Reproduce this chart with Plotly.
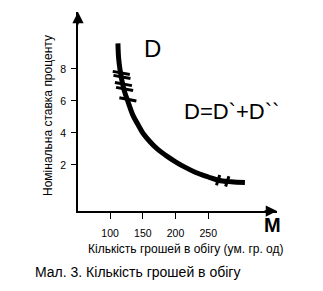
import plotly.graph_objects as go

# Demand curve for money
money = [112, 113, 115, 118, 122, 127, 135, 143, 150, 160, 172, 185, 200, 215, 230, 250, 265, 285, 306]
rate = [9.6, 8.7, 8.0, 7.3, 6.6, 6.0, 5.1, 4.5, 4.0, 3.5, 3.0, 2.6, 2.2, 1.85, 1.55, 1.25, 1.05, 0.95, 0.9]

# hash marks crossing the curve
hash_upper_y = [7.75, 7.5, 7.06, 6.75, 6.1]
hash_lower_x = [265, 279]

x_ticks = [100, 150, 200, 250]
y_ticks = [2, 4, 6, 8]

x_range = [51, 355]
y_range = [-0.875, 11.56]

FONT = "Liberation Sans, Arial, sans-serif"
W, H = 323, 291
L, R, T, B = 78, 46, 12, 80
PW, PH = W - L - R, H - T - B


def px(xp):
    return (xp - L) / PW


def py(yp):
    return (H - B - yp) / PH


fig = go.Figure()
fig.add_trace(go.Scatter(x=money, y=rate, mode="lines",
                         line=dict(color="black", width=5, shape="spline"),
                         hoverinfo="skip", showlegend=False))


def interp_x(yv):
    for i in range(len(rate) - 1):
        y0, y1 = rate[i], rate[i + 1]
        if (y0 - yv) * (y1 - yv) <= 0:
            t = (yv - y0) / (y1 - y0) if y1 != y0 else 0
            return money[i] + t * (money[i + 1] - money[i])
    return money[0]


def interp_y(xv):
    for i in range(len(money) - 1):
        x0, x1 = money[i], money[i + 1]
        if x0 <= xv <= x1:
            t = (xv - x0) / (x1 - x0)
            return rate[i] + t * (rate[i + 1] - rate[i])
    return rate[-1]


hx, hy = [], []
for yv in hash_upper_y:
    xc = interp_x(yv)
    hx += [xc - 12, xc + 14, None]
    hy += [yv + 0.1, yv - 0.1, None]
for xv in hash_lower_x:
    yc = interp_y(xv)
    hx += [xv + 2.5, xv - 2.5, None]
    hy += [yc + 0.32, yc - 0.32, None]
fig.add_trace(go.Scatter(x=hx, y=hy, mode="lines",
                         line=dict(color="black", width=3),
                         hoverinfo="skip", showlegend=False))

fig.update_layout(
    width=W, height=H,
    margin=dict(l=L, r=R, t=T, b=B),
    paper_bgcolor="white", plot_bgcolor="white",
    font=dict(family=FONT, color="black", size=11),
    xaxis=dict(range=x_range, tickvals=x_ticks, ticks="outside", ticklen=6,
               tickcolor="black", showline=True, linecolor="black", linewidth=1.5,
               showgrid=False, zeroline=False, ticklabelstandoff=6,
               tickfont=dict(size=10.5)),
    yaxis=dict(range=y_range, tickvals=y_ticks, ticks="outside", ticklen=5,
               tickcolor="black", showline=True, linecolor="black", linewidth=1.5,
               showgrid=False, zeroline=False, ticklabelstandoff=3,
               tickfont=dict(size=10.5)),
    showlegend=False,
)

# arrowheads
fig.add_annotation(x=1.0, y=0, xref="paper", yref="paper", ax=-14, ay=0,
                   showarrow=True, arrowhead=2, arrowsize=1.5, arrowwidth=1.5,
                   arrowcolor="black", text="")
fig.add_annotation(x=0, y=1.0, xref="paper", yref="paper", ax=0, ay=14,
                   showarrow=True, arrowhead=2, arrowsize=1.5, arrowwidth=1.5,
                   arrowcolor="black", text="")


def label(text, xp, yp, size, xanchor="center", bold=False, angle=0):
    fig.add_annotation(x=px(xp), y=py(yp), xref="paper", yref="paper",
                       text=f"<b>{text}</b>" if bold else text, showarrow=False,
                       font=dict(size=size), xanchor=xanchor, yanchor="middle",
                       textangle=angle)


label("D", 152, 48, 24)
label("D=D`+D``", 182, 112, 22, xanchor="left")
label("M", 272, 225, 20, bold=True)
label("Кількість грошей в обігу (ум. гр. од)", 186, 249, 12)
label("Мал. 3. Кількість грошей в обігу", 33, 272, 14, xanchor="left")
label("Номінальна ставка проценту", 48, 116, 12, angle=-90)

fig.write_html("out.html")
